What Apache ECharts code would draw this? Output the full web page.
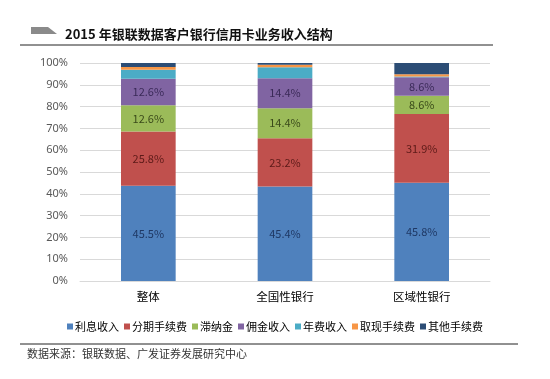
<!DOCTYPE html>
<html>
<head>
<meta charset="utf-8">
<script src="https://cdn.jsdelivr.net/npm/echarts@6/dist/echarts.min.js"></script>
<style>
html,body{margin:0;padding:0;background:#fff;}
#c{width:550px;height:379px;}
</style>
</head>
<body>
<div id="c"></div>
<script>
const categories = ['整体', '全国性银行', '区域性银行'];
const seriesNames = ['利息收入', '分期手续费', '滞纳金', '佣金收入', '年费收入', '取现手续费', '其他手续费'];
const interestIncome = [45.5, 45.4, 45.8];
const installmentFee = [25.8, 23.2, 31.9];
const lateFee = [12.6, 14.4, 8.6];
const commission = [12.6, 14.4, 8.6];
const annualFee = [4.3, 5.2, 0.3];
const cashFee = [1.3, 1.3, 1.1];
const otherFee = [1.9, 0.8, 5.2];
const yTicks = [0, 10, 20, 30, 40, 50, 60, 70, 80, 90, 100];

const raw = [interestIncome, installmentFee, lateFee, commission, annualFee, cashFee, otherFee];
const colors = ['#4F81BD', '#C0504D', '#9BBB59', '#8064A2', '#4BACC6', '#F79646', '#2C4D75'];
const labelColors = ['#1F3864', '#5C1A18', '#3A4A1A', '#3A2A58', null, null, null];
const totals = categories.map((c, i) => raw.reduce((s, arr) => s + arr[i], 0));

const series = raw.map((arr, k) => ({
  name: seriesNames[k],
  type: 'bar',
  stack: 'total',
  barWidth: '40%',
  itemStyle: { color: colors[k] },
  data: arr.map((v, i) => ({ value: v / totals[i] * 100, raw: v })),
  label: {
    show: labelColors[k] !== null,
    position: 'inside',
    fontSize: 11,
    fontFamily: 'Noto Sans CJK SC, sans-serif',
    color: labelColors[k] || '#000',
    formatter: p => p.data.raw.toFixed(1) + '%'
  },
  emphasis: { disabled: true }
}));

const chart = echarts.init(document.getElementById('c'));
chart.setOption({
  animation: false,
  backgroundColor: '#fff',
  grid: { left: 80, right: 60, top: 63, bottom: 98 },
  legend: {
    data: seriesNames,
    left: 'center',
    top: 316,
    itemWidth: 6,
    itemHeight: 6,
    itemGap: 5,
    icon: 'rect',
    textStyle: { fontSize: 11, color: '#000', fontFamily: 'Noto Sans CJK SC, sans-serif', padding: [0, 0, 0, -3] }
  },
  xAxis: {
    type: 'category',
    data: categories,
    axisLine: { show: true, lineStyle: { color: '#D9D9D9' } },
    axisTick: { show: false },
    axisLabel: { fontSize: 11.5, color: '#000', margin: 10, fontFamily: 'Noto Sans CJK SC, sans-serif' }
  },
  yAxis: {
    type: 'value',
    min: yTicks[0],
    max: yTicks[yTicks.length - 1],
    interval: 10,
    axisLine: { show: false },
    axisTick: { show: false },
    splitLine: { lineStyle: { color: '#D9D9D9' } },
    axisLabel: { formatter: '{value}%', fontSize: 11, color: '#595959', margin: 12, fontFamily: 'Noto Sans, sans-serif' }
  },
  graphic: [
    { type: 'polygon', shape: { points: [[31, 27], [48, 27], [57, 34], [31, 34]] }, style: { fill: '#8A8A8A' } },
    { type: 'text', left: 65, top: 28, style: { text: '2015 年银联数据客户银行信用卡业务收入结构', fontSize: 13, fontWeight: 'bold', fill: '#111', fontFamily: 'Noto Sans CJK SC, sans-serif' } },
    { type: 'line', shape: { x1: 20, y1: 45, x2: 493, y2: 45 }, style: { stroke: '#222', lineWidth: 1 } },
    { type: 'line', shape: { x1: 20, y1: 344, x2: 518, y2: 344 }, style: { stroke: '#222', lineWidth: 1 } },
    { type: 'text', left: 27, top: 348, style: { text: '数据来源：银联数据、广发证券发展研究中心', fontSize: 11, fill: '#333', fontFamily: 'Noto Sans CJK SC, sans-serif' } }
  ],
  series: series
});
</script>
</body>
</html>
